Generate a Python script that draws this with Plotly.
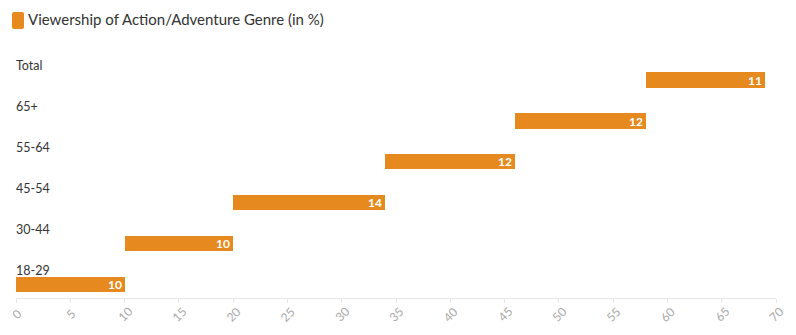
import numpy as np
import plotly.graph_objects as go

categories = ["18-29", "30-44", "45-54", "55-64", "65+", "Total"]
values = [10, 10, 14, 12, 12, 11]
x_ticks = [0, 5, 10, 15, 20, 25, 30, 35, 40, 45, 50, 55, 60, 65, 70]
title_text = "Viewership of Action/Adventure Genre (in %)"

bar_color = "#e68a20"
bases = np.concatenate([[0], np.cumsum(values)[:-1]])
ypos = list(range(len(categories)))

fig = go.Figure()
fig.add_trace(go.Bar(
    y=ypos, x=values, base=bases, orientation="h",
    marker=dict(color=bar_color, line=dict(width=0)),
    width=0.37,
    text=[str(v) for v in values],
    texttemplate="<b>%{text}</b>",
    textposition="inside", insidetextanchor="end", textangle=0,
    textfont=dict(color="white", size=12, family="Lato"),
    constraintext="none",
    hoverinfo="skip",
))

for i, c in enumerate(categories):
    fig.add_annotation(x=0, xref="paper", y=i, yref="y", text=c,
                       showarrow=False, xanchor="left", yanchor="middle",
                       xshift=-2, yshift=14,
                       font=dict(size=12.5, color="#333333", family="Lato"))

# rotated tick labels centred under each tick
for t in x_ticks:
    fig.add_annotation(x=t, xref="x", y=-16/248, yref="paper", text=str(t),
                       showarrow=False, xanchor="center", yanchor="middle",
                       textangle=-45,
                       font=dict(size=12, color="#aaaaaa", family="Lato"))

# title marker (rounded square)
fig.add_shape(type="path", xref="paper", yref="paper",
              xsizemode="pixel", ysizemode="pixel", xanchor=0, yanchor=1,
              path="M -2 38 L 6 38 Q 8 38 8 36 L 8 23 Q 8 21 6 21 L -2 21 Q -4 21 -4 23 L -4 36 Q -4 38 -2 38 Z",
              fillcolor=bar_color, line=dict(width=0))

fig.update_layout(
    width=796, height=335,
    margin=dict(l=16, r=20, t=50, b=37, autoexpand=False),
    paper_bgcolor="white", plot_bgcolor="white",
    showlegend=False,
    bargap=0,
    title=dict(text=title_text, x=28/796, xanchor="left", xref="container",
               y=1-20/335, yanchor="middle", yref="container",
               font=dict(size=15, color="#333333", family="Lato")),
    xaxis=dict(range=[0, 70], tickvals=x_ticks, showticklabels=False,
               showgrid=False, zeroline=False,
               showline=True, linecolor="#e6e6e6", linewidth=1,
               ticks="outside", ticklen=4, tickcolor="#e6e6e6", automargin=False),
    yaxis=dict(range=[-0.32, 5.73], showticklabels=False, showgrid=False,
               zeroline=False, showline=False, automargin=False),
    font=dict(family="Lato"),
)

fig.write_html("out.html")
